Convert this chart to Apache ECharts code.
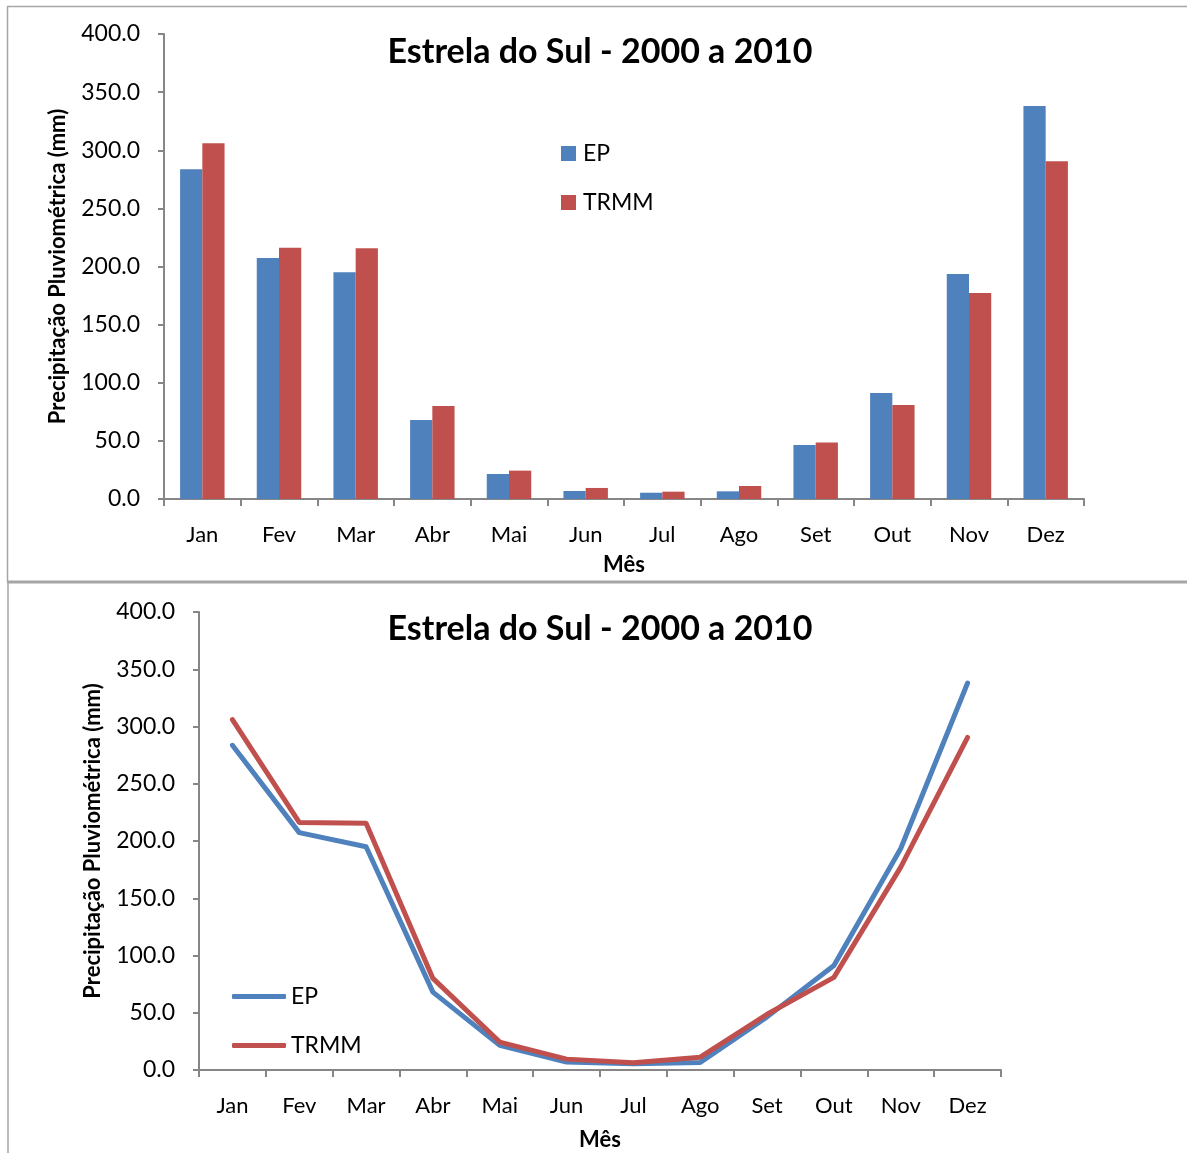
<!DOCTYPE html>
<html>
<head>
<meta charset="utf-8">
<script src="https://cdn.jsdelivr.net/npm/echarts@6/dist/echarts.min.js"></script>
<style>
  html, body { margin: 0; padding: 0; background: #fff; }
  #chart { width: 1187px; height: 1153px; }
</style>
</head>
<body>
<div id="chart"></div>
<script>
// Monthly rainfall, Estrela do Sul, 2000-2010 (mm)
const months = ['Jan', 'Fev', 'Mar', 'Abr', 'Mai', 'Jun', 'Jul', 'Ago', 'Set', 'Out', 'Nov', 'Dez'];
const epValues = [283.6, 207.3, 195.0, 68.0, 21.5, 6.9, 5.4, 6.6, 46.4, 91.2, 193.5, 338.0];
const trmmValues = [306.0, 216.2, 215.6, 80.0, 24.4, 9.5, 6.3, 11.2, 48.7, 80.9, 177.2, 290.5];
const seriesNames = ['EP', 'TRMM'];
const chartTitle = 'Estrela do Sul - 2000 a 2010';
const yAxisTitle = 'Precipitação Pluviométrica (mm)';
const xAxisTitle = 'Mês';

const FONT = 'Lato, "Open Sans", sans-serif';
const BLUE = '#4F81BD';
const RED = '#C0504D';
const AXIS = '#868686';
const FRAME = '#A6A6A6';

function valueAxis(gridIndex) {
  return {
    type: 'value', gridIndex: gridIndex, min: 0, max: 400, interval: 50,
    name: yAxisTitle, nameLocation: 'middle', nameGap: 95,
    nameTextStyle: { fontFamily: FONT, fontWeight: 'bold', fontSize: 22, color: '#000' },
    axisLine: { show: true, lineStyle: { color: AXIS, width: 2 } },
    axisTick: { show: true, length: 6, lineStyle: { color: AXIS, width: 2 } },
    axisLabel: { formatter: v => v.toFixed(1), fontFamily: FONT, fontSize: 23, color: '#000', margin: 24 },
    splitLine: { show: false }
  };
}

function categoryAxis(gridIndex, nameGap) {
  return {
    type: 'category', gridIndex: gridIndex, data: months, boundaryGap: true,
    name: xAxisTitle, nameLocation: 'middle', nameGap: nameGap,
    nameTextStyle: { fontFamily: FONT, fontWeight: 'bold', fontSize: 22, color: '#000' },
    axisLine: { lineStyle: { color: AXIS, width: 2 } },
    axisTick: { show: true, length: 7, alignWithLabel: false, lineStyle: { color: AXIS, width: 2 } },
    axisLabel: { fontFamily: FONT, fontSize: 22, color: '#000', margin: 25 }
  };
}

const option = {
  animation: false,
  backgroundColor: '#fff',
  title: [
    { text: chartTitle, left: 595, top: 30, textAlign: 'center',
      textStyle: { fontFamily: FONT, fontWeight: 'bold', fontSize: 34, color: '#000' } },
    { text: chartTitle, left: 595, top: 607, textAlign: 'center',
      textStyle: { fontFamily: FONT, fontWeight: 'bold', fontSize: 34, color: '#000' } }
  ],
  legend: [
    { data: seriesNames, orient: 'vertical', left: 556, top: 137, itemGap: 26,
      icon: 'rect', itemWidth: 15, itemHeight: 15,
      textStyle: { fontFamily: FONT, fontSize: 23, color: '#000', padding: [0, 0, 0, 2] } },
    { data: seriesNames, orient: 'vertical', left: 227, top: 980, itemGap: 26,
      icon: 'roundRect', itemWidth: 54, itemHeight: 5,
      textStyle: { fontFamily: FONT, fontSize: 23, color: '#000', padding: [0, 0, 0, 0] } }
  ],
  grid: [
    { left: 164, top: 34, width: 920, height: 465, outerBoundsMode: 'none' },
    { left: 199, top: 612, width: 802, height: 458, outerBoundsMode: 'none' }
  ],
  xAxis: [categoryAxis(0, 55), categoryAxis(1, 59)],
  yAxis: [valueAxis(0), valueAxis(1)],
  series: [
    { name: seriesNames[0], type: 'bar', xAxisIndex: 0, yAxisIndex: 0, data: epValues,
      barGap: '0%', barCategoryGap: '42%', itemStyle: { color: BLUE } },
    { name: seriesNames[1], type: 'bar', xAxisIndex: 0, yAxisIndex: 0, data: trmmValues,
      barGap: '0%', barCategoryGap: '42%', itemStyle: { color: RED } },
    { name: seriesNames[0], type: 'line', xAxisIndex: 1, yAxisIndex: 1, data: epValues,
      symbol: 'none', lineStyle: { color: BLUE, width: 5, cap: 'round', join: 'round' }, itemStyle: { color: BLUE } },
    { name: seriesNames[1], type: 'line', xAxisIndex: 1, yAxisIndex: 1, data: trmmValues,
      symbol: 'none', lineStyle: { color: RED, width: 5, cap: 'round', join: 'round' }, itemStyle: { color: RED } }
  ],
  graphic: [
    // frame around the two panels
    { type: 'line', shape: { x1: 7, y1: 6.5, x2: 1187, y2: 6.5 }, style: { stroke: FRAME, lineWidth: 1.5 }, silent: true },
    { type: 'line', shape: { x1: 7.5, y1: 6, x2: 7.5, y2: 582 }, style: { stroke: FRAME, lineWidth: 1.5 }, silent: true },
    { type: 'line', shape: { x1: 7, y1: 582, x2: 1187, y2: 582 }, style: { stroke: FRAME, lineWidth: 3 }, silent: true },
    { type: 'line', shape: { x1: 8, y1: 582, x2: 8, y2: 1153 }, style: { stroke: FRAME, lineWidth: 1.5 }, silent: true }
  ]
};

const chart = echarts.init(document.getElementById('chart'), null, { renderer: 'canvas' });
chart.setOption(option);
</script>
</body>
</html>
